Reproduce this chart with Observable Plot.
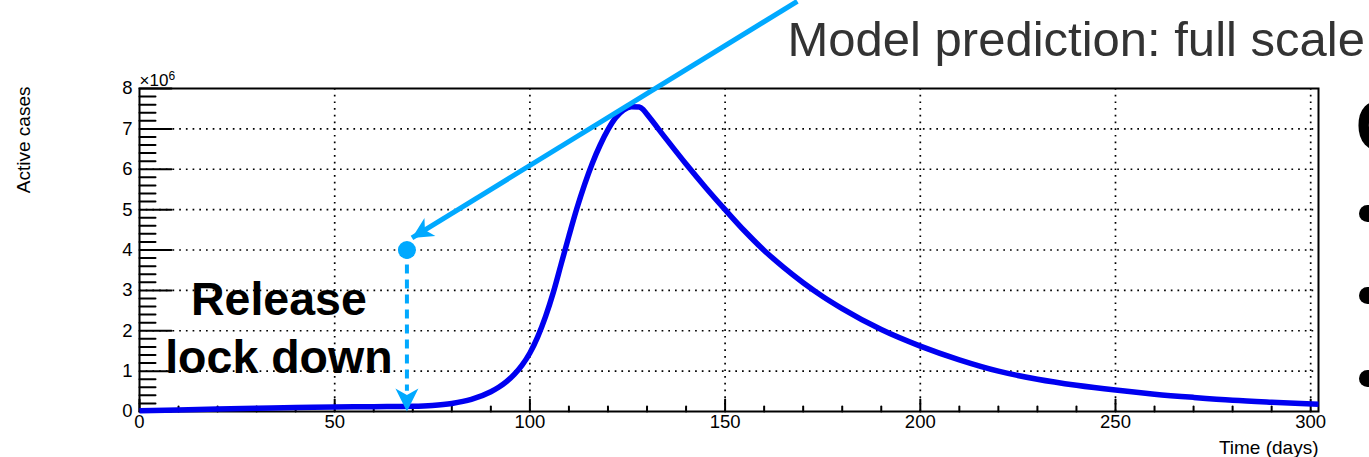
<!DOCTYPE html>
<html>
<head>
<meta charset="utf-8">
<script src="https://cdn.jsdelivr.net/npm/d3@7"></script>
<script src="https://cdn.jsdelivr.net/npm/@observablehq/plot@0.6"></script>
<style>
  html, body { margin: 0; padding: 0; background: #fff; }
  #chart svg { display: block; }
</style>
</head>
<body>
<div id="chart"></div>
<script>
// ---- data ----
const days = [0, 10, 20, 30, 40, 50, 60, 70, 75, 80, 85, 90, 92, 94, 96, 98, 100, 102, 104, 106, 108, 110, 112, 114, 116, 118, 120, 122, 124, 126, 128, 129, 130, 135, 140, 145, 150, 155, 160, 165, 170, 175, 180, 190, 200, 210, 220, 230, 240, 250, 260, 270, 280, 290, 302];
const activeCasesMillions = [0.02, 0.04, 0.06, 0.08, 0.10, 0.11, 0.12, 0.13, 0.15, 0.20, 0.30, 0.49, 0.60, 0.74, 0.92, 1.15, 1.45, 1.85, 2.35, 2.95, 3.65, 4.35, 5.02, 5.62, 6.15, 6.60, 6.98, 7.28, 7.47, 7.55, 7.54, 7.48, 7.36, 6.74, 6.13, 5.55, 5.00, 4.47, 3.99, 3.57, 3.19, 2.85, 2.55, 2.03, 1.62, 1.28, 1.00, 0.80, 0.65, 0.53, 0.43, 0.35, 0.28, 0.23, 0.18];

const xTickLabels = [0, 50, 100, 150, 200, 250, 300];
const yTickLabels = [0, 1, 2, 3, 4, 5, 6, 7, 8];
const xMinorTicks = d3.range(0, 301, 10).filter(d => d % 50 !== 0);
const yMinorTicks = d3.range(0, 8, 0.2).map(d => +d.toFixed(1)).filter(d => Math.abs(d - Math.round(d)) > 1e-6);
const xGrid = [50, 100, 150, 200, 250, 300];
const yGrid = [1, 2, 3, 4, 5, 6, 7];

// annotation anchors (in data units: days, millions of cases)
const releaseDay = [68.5];
const releaseLevel = [4.0];
const pointerFrom = [{day: 168.5, cases: 10.16}];
const pointerTo = [{day: 69.8, cases: 4.3}];
const releaseText = ["Release\nlock down"];
const releaseTextAt = [{day: 35.7, cases: 0.95}];

const titleText = "Model prediction: full scale";
const xTitle = "Time (days)";
const yTitle = "Active cases";

// ---- build ----
const series = days.map((d, i) => ({day: d, cases: activeCasesMillions[i]}));
const lightBlue = "#00a9ff";
const curveBlue = "#0000f0";
const font = "'Liberation Sans', Arial, Helvetica, sans-serif";

const tickShape = {draw(context, l) { context.moveTo(0, 0); context.lineTo(0, -l); }};
const headShape = {draw(context, size) {
  const l = Math.sqrt(size / Math.PI);
  context.moveTo(0, 0);
  context.lineTo(0.5 * l, l);
  context.lineTo(0, 0.72 * l);
  context.lineTo(-0.5 * l, l);
  context.closePath();
}};

const chart = Plot.plot({
  width: 1369,
  height: 457,
  marginLeft: 139,
  marginRight: 51,
  marginTop: 88,
  marginBottom: 46,
  style: {fontFamily: font, background: "white", overflow: "visible"},
  x: {domain: [0, 302], label: null},
  y: {domain: [0, 8], label: null},
  marks: [
    // dotted grid
    Plot.ruleX(xGrid, {stroke: "black", strokeWidth: 1.7, strokeDasharray: "1.7,5"}),
    Plot.ruleY(yGrid, {stroke: "black", strokeWidth: 1.7, strokeDasharray: "1.7,5"}),
    // inward ticks
    Plot.vector(yTickLabels, {x: 0, y: d => d, length: 32, rotate: 90, anchor: "start", shape: tickShape, stroke: "black", strokeWidth: 2, fill: "none"}),
    Plot.vector(yMinorTicks, {x: 0, y: d => d, length: 16, rotate: 90, anchor: "start", shape: tickShape, stroke: "black", strokeWidth: 2, fill: "none"}),
    Plot.vector(xTickLabels, {x: d => d, y: 0, length: 12, rotate: 0, anchor: "start", shape: tickShape, stroke: "black", strokeWidth: 2, fill: "none"}),
    Plot.vector(xMinorTicks, {x: d => d, y: 0, length: 5, rotate: 0, anchor: "start", shape: tickShape, stroke: "black", strokeWidth: 2, fill: "none"}),
    Plot.frame({stroke: "black", strokeWidth: 2}),
    // axes labels
    Plot.axisX({ticks: xTickLabels, tickSize: 0, tickPadding: 3, fontSize: 18.5, tickFormat: d => String(d), label: null}),
    Plot.axisY({ticks: yTickLabels, tickSize: 0, tickPadding: 7, fontSize: 18.5, tickFormat: d => String(d), label: null}),
    Plot.text(["×10"], {frameAnchor: "top-left", textAnchor: "start", lineAnchor: "bottom", dy: -3, fontSize: 17}),
    Plot.text(["6"], {frameAnchor: "top-left", textAnchor: "start", lineAnchor: "bottom", dx: 29, dy: -9, fontSize: 12}),
    Plot.text([xTitle], {frameAnchor: "bottom-right", textAnchor: "end", lineAnchor: "bottom", dy: 42, fontSize: 19}),
    Plot.text([yTitle], {frameAnchor: "top-left", textAnchor: "end", lineAnchor: "middle", rotate: -90, dx: -116, dy: -2, fontSize: 19}),
    // model curve
    Plot.line(series, {x: "day", y: "cases", curve: "monotone-x", stroke: curveBlue, strokeWidth: 5.5, strokeLinejoin: "round", strokeLinecap: "butt"}),
    // release annotation
    Plot.ruleX(releaseDay, {y1: releaseLevel[0], y2: 0.5, stroke: lightBlue, strokeWidth: 4, strokeDasharray: "9,6"}),
    Plot.dot(releaseDay, {x: d => d, y: 0, r: 23, symbol: headShape, rotate: 180, fill: lightBlue, stroke: "none"}),
    Plot.dot(releaseDay, {x: d => d, y: releaseLevel[0], r: 9, fill: lightBlue, stroke: "none"}),
    Plot.link(pointerFrom.map((p, i) => ({x1: p.day, y1: p.cases, x2: pointerTo[i].day, y2: pointerTo[i].cases})), {x1: "x1", y1: "y1", x2: "x2", y2: "y2", stroke: lightBlue, strokeWidth: 5}),
    Plot.dot(pointerTo, {x: "day", y: "cases", r: 21, symbol: headShape, rotate: 238.6, fill: lightBlue, stroke: "none"}),
    Plot.text(releaseText, {x: () => releaseTextAt[0].day, y: () => releaseTextAt[0].cases, text: d => d, textAnchor: "middle", lineAnchor: "bottom", lineHeight: 1.25, fontSize: 46.5, fontWeight: "bold", fill: "black"}),
    // slide text around the chart
    Plot.text([titleText], {frameAnchor: "top-left", textAnchor: "start", lineAnchor: "bottom", dx: 648, dy: -33, fontSize: 49, fill: "#333333"}),
    Plot.text(["C"], {frameAnchor: "top-right", textAnchor: "start", lineAnchor: "bottom", dx: 37, dy: 62, fontSize: 72, fontWeight: "bold", fill: "black"}),
    Plot.dot([0], {frameAnchor: "top-right", dx: 49, dy: 125, r: 8.5, fill: "black"}),
    Plot.dot([0], {frameAnchor: "top-right", dx: 49, dy: 207, r: 8.5, fill: "black"}),
    Plot.dot([0], {frameAnchor: "top-right", dx: 49, dy: 290, r: 8.5, fill: "black"})
  ]
});
document.getElementById("chart").appendChild(chart);
</script>
</body>
</html>
